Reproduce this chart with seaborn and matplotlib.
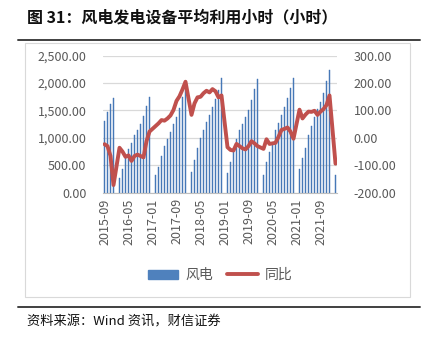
import numpy as np
import pandas as pd
import matplotlib
matplotlib.use("Agg")
import matplotlib.pyplot as plt
from matplotlib.lines import Line2D
from matplotlib.patches import Patch, Rectangle
import seaborn as sns

# Monthly wind-power average utilisation hours (cumulative within each year)
# and their year-on-year change; January is reported together with February.
months = pd.period_range("2015-09", "2022-02", freq="M").strftime("%Y-%m").tolist()

hours_2015 = [1313, 1472, 1624, 1734]
hours_2016 = [np.nan, 269, 428, 630, 800, 910, 1051, 1136, 1245, 1404, 1575, 1753]
hours_2017 = [np.nan, 318, 470, 672, 850, 989, 1111, 1245, 1381, 1551, 1753, 1948]
hours_2018 = [np.nan, 379, 599, 824, 1002, 1136, 1295, 1423, 1557, 1716, 1881, 2095]
hours_2019 = [np.nan, 366, 568, 800, 978, 1136, 1258, 1381, 1515, 1698, 1893, 2082]
hours_2020 = [np.nan, 318, 562, 739, 886, 1136, 1270, 1423, 1557, 1728, 1917, 2097]
hours_2021 = [np.nan, 428, 630, 824, 1051, 1221, 1381, 1520, 1648, 1826, 2040, 2232]
hours_2022 = [np.nan, 318]

yoy_2015 = [-23, -30, -66, -172]
yoy_2016 = [np.nan, -36, -50, -69, -64, -84, -66, -61, -66, -71, -12, 23]
yoy_2017 = [np.nan, 43, 53, 65, 63, 71, 82, 102, 135, 152, 177, 205]
yoy_2018 = [np.nan, 84, 126, 148, 150, 163, 172, 166, 178, 170, 148, 155]
yoy_2019 = [np.nan, -34, -44, -46, -22, -30, -38, -42, -30, -12, -20, -30]
yoy_2020 = [np.nan, -40, -5, -22, -20, -18, 4, 29, 33, 38, 23, -3]
yoy_2021 = [np.nan, 103, 71, 85, 96, 95, 99, 84, 96, 105, 120, 155]
yoy_2022 = [np.nan, -94]

hours = (hours_2015 + hours_2016 + hours_2017 + hours_2018 + hours_2019
         + hours_2020 + hours_2021 + hours_2022)
yoy = (yoy_2015 + yoy_2016 + yoy_2017 + yoy_2018 + yoy_2019
       + yoy_2020 + yoy_2021 + yoy_2022)

df = pd.DataFrame({"month": months, "hours": hours, "yoy": yoy})
df["pos"] = np.arange(len(df))

sns.set_theme(style="white")
plt.rcParams["font.family"] = ["Noto Sans CJK SC", "DejaVu Sans"]

W, H = 429, 345
fig = plt.figure(figsize=(W / 100, H / 100), dpi=100)

# frame around the chart area and rules above / below it
fig.add_artist(Rectangle((25 / W, 1 - 297 / H), (410 - 25) / W, (297 - 43) / H,
                         transform=fig.transFigure, fill=False,
                         edgecolor="#D9D9D9", linewidth=0.8))
fig.add_artist(Line2D([18 / W, 420 / W], [1 - 40 / H, 1 - 40 / H],
                      transform=fig.transFigure, color="#404040", linewidth=1.4))
fig.add_artist(Line2D([18 / W, 420 / W], [1 - 307 / H, 1 - 307 / H],
                      transform=fig.transFigure, color="#404040", linewidth=1.4))

fig.text(27 / W, 1 - 17 / H, "图 31：风电发电设备平均利用小时（小时）",
         fontsize=11.5, fontweight="bold", color="#111111", va="center", ha="left")
fig.text(27 / W, 1 - 322 / H, "资料来源：Wind 资讯，财信证券",
         fontsize=9.5, style="italic", color="#111111", va="center", ha="left")

left, right, top, bottom = 103, 337, 55.7, 192.7
ax = fig.add_axes([left / W, 1 - bottom / H, (right - left) / W, (bottom - top) / H])

bar_color = "#4F81BD"
line_color = "#C0504D"
text_color = "#595959"

sns.barplot(data=df, x="month", y="hours", order=months, color=bar_color,
            width=0.5, saturation=1, edgecolor="#3A6DB0", linewidth=0.3, ax=ax)

ax.set_ylim(0, 2500)
ax.set_xlim(-0.5, len(months) - 0.5)
ax.set_yticks(np.arange(0, 2501, 500))
ax.set_yticklabels([f"{v:,.2f}" for v in np.arange(0, 2501, 500)],
                   color=text_color, fontsize=9)
ax.yaxis.grid(True, color="#D9D9D9", linewidth=0.9)
ax.set_axisbelow(True)

label_pos = np.arange(0, len(months), 8)
ax.set_xticks(label_pos)
ax.set_xticklabels([months[i] for i in label_pos], rotation=90,
                   color=text_color, fontsize=9)
ax.set_xticks(np.arange(-0.5, len(months), 8), minor=True)
ax.tick_params(axis="x", which="major", length=0, pad=4)
ax.tick_params(axis="x", which="minor", length=4, color="#BFBFBF", width=0.8)
ax.tick_params(axis="y", length=0, pad=12)
ax.set_xlabel("")
ax.set_ylabel("")
for s in ["left", "right", "top"]:
    ax.spines[s].set_visible(False)
ax.spines["bottom"].set_color("#BFBFBF")
ax.spines["bottom"].set_linewidth(0.8)

ax2 = ax.twinx()
line_df = df.dropna(subset=["yoy"])
sns.lineplot(data=line_df, x="pos", y="yoy", color=line_color, linewidth=2.8,
             ax=ax2, legend=False)
ax2.set_ylim(-200, 300)
ax2.set_xlim(-0.5, len(months) - 0.5)
ax2.set_yticks(np.arange(-200, 301, 100))
ax2.set_yticklabels([f"{v:.2f}" for v in np.arange(-200, 301, 100)],
                    color=text_color, fontsize=9)
ax2.tick_params(axis="y", length=0, pad=12)
ax2.set_ylabel("")
ax2.set_xlabel("")
for s in ax2.spines.values():
    s.set_visible(False)

handles = [Patch(facecolor=bar_color, edgecolor=bar_color, label="风电"),
           Line2D([0], [0], color=line_color, linewidth=2.8, label="同比")]
fig.legend(handles=handles, loc="center", bbox_to_anchor=(220 / W, 1 - 275 / H),
           ncol=2, frameon=False, fontsize=10, handlelength=2.2,
           handleheight=0.6, columnspacing=1.0, handletextpad=0.5,
           labelcolor=text_color)

fig.savefig("out.png", dpi=100)
